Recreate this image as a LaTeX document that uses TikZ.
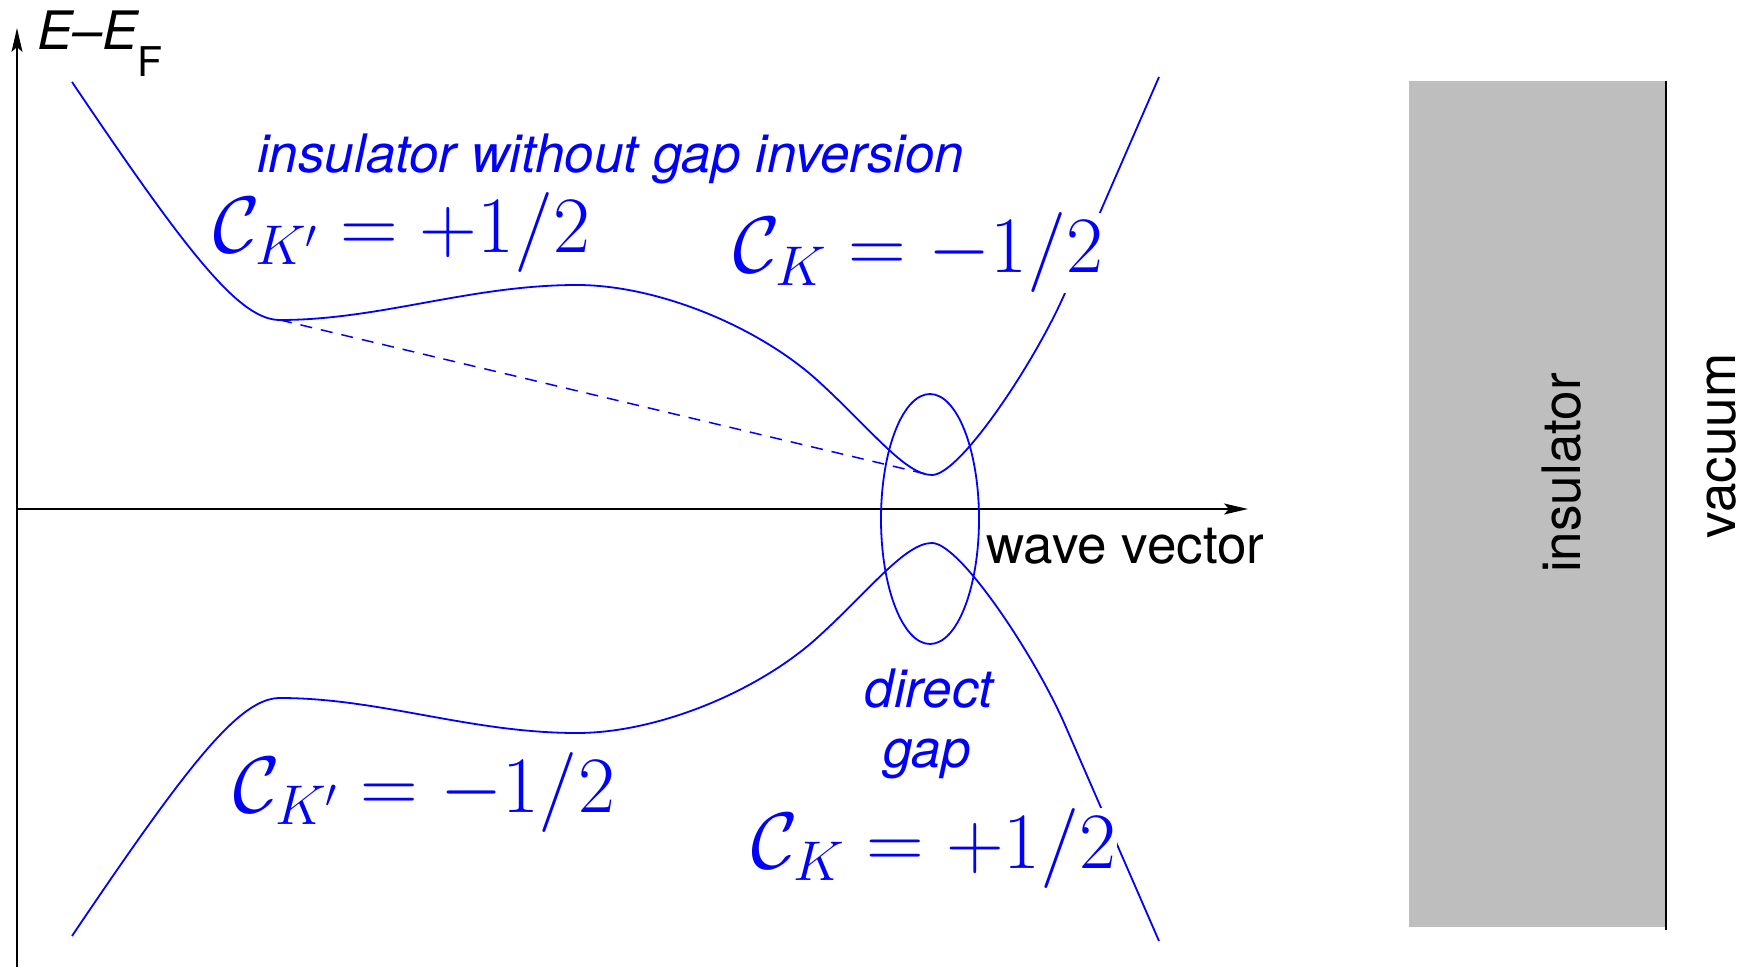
\RequirePackage{fix-cm}
\documentclass[tikz,border=0pt]{standalone}
\usepackage[no-math]{fontspec}
\newfontfamily\heros{TeX Gyre Heros}
\usetikzlibrary{arrows.meta,positioning,calc}
\definecolor{boxgray}{RGB}{190,190,190}

\begin{document}
\begin{tikzpicture}[
    x=1pt, y=1pt,
    band/.style={blue, line width=1.8pt},
    axis/.style={line width=1.8pt, -{Stealth[length=24pt,width=11pt,inset=5pt]}},
    chern/.style={blue, fill=white, inner sep=0pt, anchor=base west, font=\fontsize{80}{94}\selectfont},
    blab/.style={blue, inner sep=0pt, font=\fontsize{53}{62}\selectfont\heros\itshape},
    plain/.style={inner sep=0pt, font=\fontsize{53}{62}\selectfont\heros}
]
\useasboundingbox (0,-458) rectangle (1746,509);
\coordinate (O) at (17,0);
\coordinate (ybot) at (17,-458);
\coordinate (ytop) at (17,481);
\coordinate (xtip) at (1248,0);
\coordinate (Kp) at (280,189);
\coordinate (K) at (930,34);
\coordinate (wallt) at (1666,428);
\coordinate (wallb) at (1666,-421);

\fill[boxgray] (1409,-418) rectangle (wallt);
\draw[line width=2.5pt] (wallt) -- (wallb);

\draw[axis] (ybot) -- (ytop);
\draw[axis] (O) -- (xtip);

\foreach \s in {1,-1}
    \draw[band, yscale=\s] (72,427) .. controls (190,252) and (240,189) .. (280,189)
        .. controls (380,189) and (470,224) .. (577,224)
        .. controls (657,224) and (757,183) .. (817,129)
        .. controls (870,81) and (905,34) .. (932,34)
        .. controls (960,34) and (1035,147) .. (1065,216)
        -- (1159,432);

\draw[band, line width=1.5pt, dash pattern=on 12pt off 9pt] (Kp) -- (K);
\draw[band] (930,-10) ellipse [x radius=49pt, y radius=125pt];

\node[plain, anchor=base west] (elabel) at (37,459) {\itshape E–E\raisebox{-27pt}{\upshape\fontsize{41}{41}\selectfont F}};
\node[plain, anchor=base west] (wave) at (986,-54) {wave vector};
\node[blab, anchor=base west] (title) at (257,336) {insulator without gap inversion};
\node[blab, anchor=base] (direct) at (929,-198) {direct};
\node[blab, anchor=base] (gap) at (927,-258) {gap};

\node[chern] (cKpu) at (213,256) {$\mathcal{C}_{K'}=+1/2$};
\node[chern] (cKu) at (733,236) {$\mathcal{C}_{K}=-1/2$};
\node[chern] (cKpl) at (233,-303) {$\mathcal{C}_{K'}=-1/2$};
\node[chern] (cKl) at (751,-359) {$\mathcal{C}_{K}=+1/2$};

\node[plain, rotate=90, anchor=base] (ins) at (1580,36) {insulator};
\node[plain, rotate=90, anchor=base] (vac) at (1735,63) {vacuum};
\end{tikzpicture}
\end{document}
